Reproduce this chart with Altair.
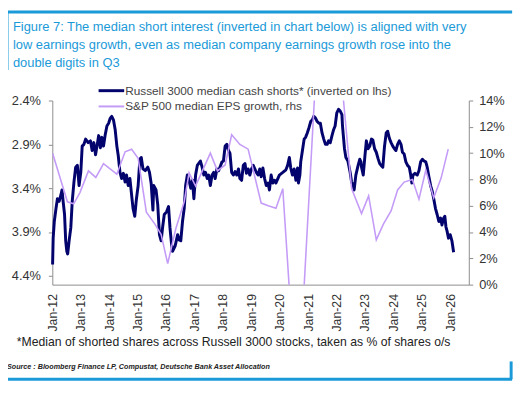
import altair as alt
import pandas as pd
import numpy as np

# ---------------- data ----------------
# Russell 3000 median cash shorts (% of shares o/s), plotted inverted on lhs
r_year = [2012.01, 2012.03, 2012.07, 2012.13, 2012.18, 2012.24, 2012.30, 2012.34, 2012.38, 2012.43,
          2012.47, 2012.51, 2012.54, 2012.59, 2012.65, 2012.70, 2012.76, 2012.82, 2012.88, 2012.94,
          2013.00, 2013.05, 2013.11, 2013.17, 2013.26, 2013.34, 2013.40, 2013.46, 2013.52, 2013.57,
          2013.63, 2013.69, 2013.74, 2013.80, 2013.86, 2013.92, 2013.98, 2014.04, 2014.09, 2014.15,
          2014.21, 2014.27, 2014.32, 2014.38, 2014.44, 2014.50, 2014.56, 2014.61, 2014.67, 2014.73,
          2014.79, 2014.84, 2014.90, 2014.96, 2015.02, 2015.08, 2015.13, 2015.19, 2015.27, 2015.36,
          2015.42, 2015.48, 2015.54, 2015.57, 2015.65, 2015.71, 2015.77, 2015.83, 2015.88, 2015.94,
          2016.02, 2016.09, 2016.14, 2016.19, 2016.23, 2016.32, 2016.41, 2016.46, 2016.52, 2016.58,
          2016.64, 2016.69, 2016.75, 2016.81, 2016.87, 2016.93, 2016.98, 2017.04, 2017.10, 2017.21,
          2017.27, 2017.33, 2017.39, 2017.45, 2017.50, 2017.56, 2017.62, 2017.68, 2017.73, 2017.79,
          2017.85, 2017.97, 2018.02, 2018.08, 2018.14, 2018.20, 2018.25, 2018.31, 2018.37, 2018.43,
          2018.49, 2018.55, 2018.60, 2018.66, 2018.72, 2018.78, 2018.83, 2018.89, 2018.95, 2019.01,
          2019.07, 2019.18, 2019.24, 2019.30, 2019.35, 2019.41, 2019.47, 2019.53, 2019.59, 2019.64,
          2019.70, 2019.76, 2019.82, 2019.87, 2019.99, 2020.11, 2020.22, 2020.28, 2020.34, 2020.39,
          2020.45, 2020.51, 2020.57, 2020.63, 2020.66, 2020.71, 2020.74, 2020.80, 2020.86, 2020.91,
          2020.97, 2021.03, 2021.09, 2021.15, 2021.20, 2021.26, 2021.32, 2021.38, 2021.43, 2021.49,
          2021.55, 2021.61, 2021.67, 2021.72, 2021.78, 2021.84, 2021.90, 2021.95, 2022.01, 2022.07,
          2022.13, 2022.19, 2022.21, 2022.24, 2022.28, 2022.33, 2022.40, 2022.48, 2022.53, 2022.59,
          2022.62, 2022.68, 2022.76, 2022.82, 2022.86, 2022.88, 2022.94, 2023.00, 2023.05, 2023.11,
          2023.17, 2023.23, 2023.28, 2023.34, 2023.40, 2023.46, 2023.52, 2023.57, 2023.63, 2023.69,
          2023.75, 2023.80, 2023.86, 2023.92, 2023.98, 2024.04, 2024.09, 2024.15, 2024.21, 2024.27,
          2024.32, 2024.38, 2024.44, 2024.50, 2024.56, 2024.61, 2024.65, 2024.69, 2024.76, 2024.84,
          2024.90, 2024.96, 2025.02, 2025.08, 2025.14, 2025.19, 2025.25, 2025.31, 2025.37, 2025.42,
          2025.48, 2025.54, 2025.60, 2025.66, 2025.71, 2025.77, 2025.81, 2025.85, 2025.89, 2025.94,
          2026.00, 2026.06, 2026.12]
r_val = [4.27, 3.97, 3.78, 3.63, 3.52, 3.55, 3.48, 3.42, 3.55, 3.70,
         4.00, 4.12, 4.15, 4.00, 3.85, 3.55, 3.33, 3.16, 3.14, 3.37,
         3.22, 2.92, 2.90, 2.84, 2.88, 2.86, 2.97, 2.88, 3.02, 2.92,
         2.80, 2.94, 2.82, 2.92, 2.79, 2.69, 2.66, 2.60, 2.58, 2.62,
         2.73, 2.92, 3.03, 3.22, 3.29, 3.23, 3.33, 3.25, 3.37, 3.29,
         3.48, 3.63, 3.72, 3.52, 3.37, 3.07, 3.05, 3.18, 3.20, 3.16,
         3.22, 3.35, 3.65, 3.37, 3.42, 3.59, 3.93, 4.00, 3.85, 3.70,
         3.67, 3.61, 3.85, 4.02, 4.12, 4.06, 3.93, 3.99, 4.00, 3.78,
         3.63, 3.37, 3.25, 3.31, 3.40, 3.31, 3.52, 3.25, 3.14, 3.09,
         3.16, 3.25, 3.22, 3.29, 3.25, 3.37, 3.25, 3.22, 3.29, 3.18,
         3.20, 3.10, 3.09, 2.92, 2.90, 2.97, 3.00, 3.22, 3.25, 3.21,
         3.25, 3.18, 3.29, 3.31, 3.14, 3.12, 3.23, 3.18, 3.25, 3.18,
         3.14, 3.22, 3.25, 3.18, 3.27, 3.17, 3.29, 3.37, 3.34, 3.42,
         3.25, 3.34, 3.31, 3.34, 3.25, 3.22, 3.19, 3.14, 3.05, 3.17,
         3.25, 3.18, 3.31, 3.17, 3.34, 3.25, 3.10, 2.97, 2.84, 2.82,
         2.77, 2.71, 2.64, 2.62, 2.58, 2.60, 2.64, 2.66, 2.66, 2.77,
         2.84, 2.90, 2.90, 2.86, 2.88, 2.80, 2.73, 2.69, 2.54, 2.50,
         2.52, 2.56, 2.69, 2.80, 2.95, 3.05, 3.09, 3.22, 3.33, 3.37,
         3.42, 3.25, 3.14, 3.07, 3.10, 3.16, 3.25, 3.03, 2.86, 2.95,
         2.92, 2.84, 2.85, 2.95, 2.99, 3.06, 3.12, 3.14, 3.16, 2.92,
         2.77, 2.75, 2.83, 2.88, 2.92, 2.95, 2.97, 2.90, 2.86, 2.90,
         2.99, 3.01, 3.10, 3.14, 3.16, 3.25, 3.34, 3.25, 3.23, 3.25,
         3.20, 3.10, 3.07, 3.09, 3.10, 3.16, 3.27, 3.37, 3.44, 3.52,
         3.63, 3.70, 3.78, 3.74, 3.82, 3.74, 3.72, 3.84, 3.89, 3.97,
         3.93, 4.00, 4.13]

# S&P 500 median EPS growth (%), rhs (values beyond the axis are clipped in the chart)
e_year = [2012.01, 2012.53, 2012.75, 2012.97, 2013.27, 2013.53, 2013.80, 2014.27, 2014.56, 2014.79,
          2015.02, 2015.31, 2015.61, 2015.83, 2016.06, 2016.35, 2016.64, 2016.81, 2017.04, 2017.33,
          2017.56, 2017.81, 2018.08, 2018.31, 2018.60, 2018.89, 2019.35, 2019.60, 2019.87, 2020.11,
          2020.36, 2020.60, 2020.85, 2021.37, 2021.61, 2021.99, 2022.53, 2022.88, 2023.13, 2023.40,
          2023.65, 2023.92, 2024.15, 2024.38, 2024.67, 2024.90, 2025.14, 2025.42, 2025.68, 2025.93]
e_val = [10.0, 6.3, 6.15, 7.0, 8.65, 8.15, 9.2, 8.4, 10.1, 10.3,
         9.6, 5.5, 4.6, 3.8, 1.6, 4.3, 6.3, 8.5, 7.5, 8.9,
         10.0, 8.65, 9.1, 11.4, 10.66, 10.3, 6.2, 6.0, 5.8, 7.3,
         -1.0, -20.0, -0.5, 20.0, 45.0, 20.0, 7.3, 5.4, 6.75, 3.4,
         4.6, 5.6, 7.2, 7.8, 8.0, 6.5, 8.7, 6.6, 8.1, 10.3]

left_ticks = [2.4, 2.9, 3.4, 3.9, 4.4]
right_ticks = [0, 2, 4, 6, 8, 10, 12, 14]
x_tick_years = list(range(2012, 2027))

title_lines = [
    "Figure 7: The median short interest (inverted in chart below) is aligned with very",
    "low earnings growth, even as median company earnings growth rose into the",
    "double digits in Q3",
]
legend_labels = ["Russell 3000 median cash shorts* (inverted on lhs)", "S&P 500 median EPS growth, rhs"]
footnote = "*Median of shorted shares across Russell 3000 stocks, taken as % of shares o/s"
source = "Source : Bloomberg Finance LP, Compustat, Deutsche Bank Asset Allocation"

# ---------------- helpers ----------------
def to_date(years):
    out = []
    for y in years:
        yi = int(np.floor(y))
        frac = y - yi
        s = pd.Timestamp(year=yi, month=1, day=1)
        e = pd.Timestamp(year=yi + 1, month=1, day=1)
        out.append((s + (e - s) * frac).strftime("%Y-%m-%dT%H:%M:%S"))
    return out

russell = pd.DataFrame({"date": to_date(r_year), "v": r_val})
eps = pd.DataFrame({"date": to_date(e_year), "v": e_val})

FONT = "Liberation Sans"
NAVY = "#03036e"
LILAC = "#c49cf7"
BLUE = "#1a9ad8"
GREY = "#8c8c8c"
TXT = "#333333"

x_enc = alt.X(
    "date:T",
    scale=alt.Scale(domain=["2012-01-01T00:00:00", "2026-08-28T00:00:00"], nice=False),
    axis=alt.Axis(
        values=[alt.DateTime(year=y, month=1, date=1) for y in x_tick_years],
        format="Jan-%y", labelAngle=270, labelFontSize=12.5, labelFont=FONT, labelColor=TXT,
        tickSize=0, labelPadding=9, domainColor=GREY, grid=False, title=None, labelOverlap=False,
    ),
)

russell_line = alt.Chart(russell).mark_line(color=NAVY, strokeWidth=3, strokeJoin="round").encode(
    x=x_enc,
    y=alt.Y("v:Q", scale=alt.Scale(domain=[2.4, 4.5], reverse=True, nice=False, zero=False),
            axis=alt.Axis(values=left_ticks, labelExpr="format(datum.value, '.1f') + '%'",
                          orient="left", labelFontSize=13, labelFont=FONT, labelColor=TXT,
                          tickSize=4, tickColor=GREY, domainColor=GREY, labelPadding=8,
                          grid=False, title=None)),
)

eps_line = alt.Chart(eps).mark_line(color=LILAC, strokeWidth=1.6, clip=True).encode(
    x=x_enc,
    y=alt.Y("v:Q", scale=alt.Scale(domain=[0, 14], nice=False),
            axis=alt.Axis(values=right_ticks, labelExpr="datum.value + '%'", orient="right",
                          labelFontSize=13, labelFont=FONT, labelColor=TXT, tickSize=4,
                          tickColor=GREY, domainColor=GREY, labelPadding=6, grid=False, title=None)),
)

def text_layer(txt, x, y, size, color, **kw):
    return alt.Chart(pd.DataFrame({"t": [txt]})).mark_text(
        align="left", baseline="middle", font=FONT, fontSize=size, color=color, **kw
    ).encode(x=alt.value(x), y=alt.value(y), text="t:N")

def rule_layer(x, x2, y, y2, color, width):
    return alt.Chart(pd.DataFrame({"a": [0]})).mark_rule(color=color, strokeWidth=width).encode(
        x=alt.value(x), x2=alt.value(x2), y=alt.value(y), y2=alt.value(y2)
    )

decor = [
    # frame
    rule_layer(-47, 467, -90, -90, BLUE, 3),
    rule_layer(-46, -46, -90, -31, BLUE, 3),
    rule_layer(-47, 467, 283, 283, BLUE, 3),
    rule_layer(466, 466, 265, 283, BLUE, 3),
    # legend samples
    rule_layer(47, 73, -10, -10, NAVY, 3),
    rule_layer(47, 73, 6, 6, LILAC, 2),
]
texts = [
    text_layer(title_lines[0], -40, -75, 13.1, BLUE),
    text_layer(title_lines[1], -40, -56.5, 13.1, BLUE),
    text_layer(title_lines[2], -40, -38, 13.1, BLUE),
    text_layer(legend_labels[0], 74, -10, 12, "#444444"),
    text_layer(legend_labels[1], 74, 6, 12, "#444444"),
    text_layer(footnote, -36, 245, 12.4, "#222222"),
    text_layer(source, -46, 271, 7.3, "#222222", fontStyle="italic", fontWeight="bold"),
]

chart = alt.layer(russell_line, eps_line, *decor, *texts).resolve_scale(y="independent").properties(
    width=423, height=187,
    autosize=alt.AutoSizeParams(type="none"),
    padding={"left": 45, "top": 91, "right": 52, "bottom": 102},
).configure_view(stroke=None)

chart.save("out.html", embed_options={"renderer": "svg", "actions": False})
